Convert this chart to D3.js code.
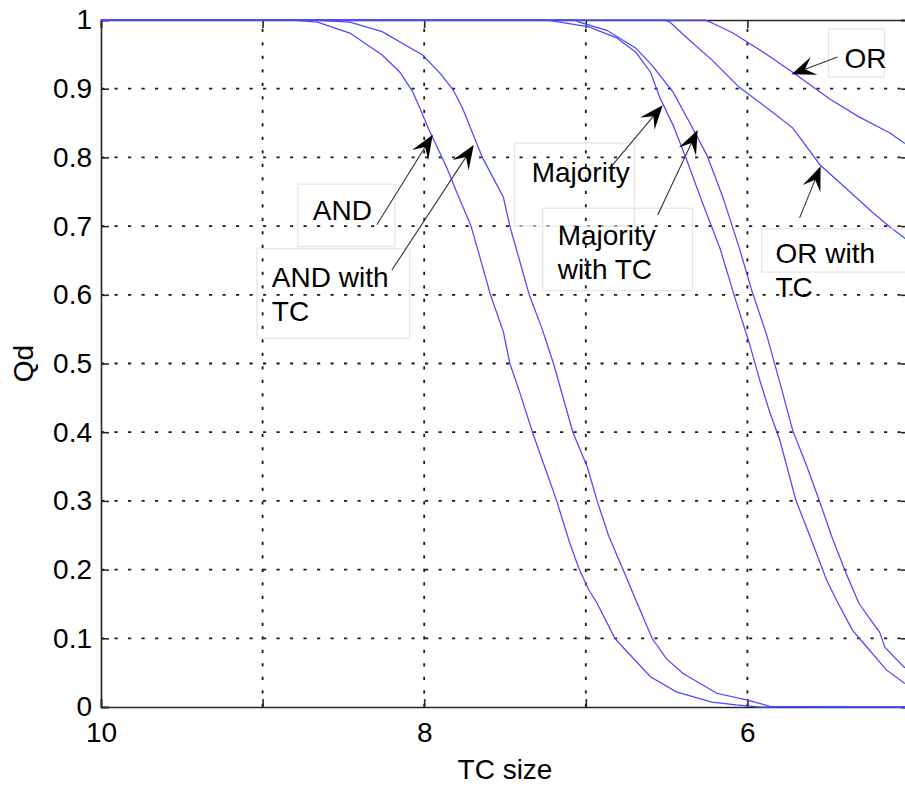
<!DOCTYPE html>
<html>
<head>
<meta charset="utf-8">
<script src="https://cdn.jsdelivr.net/npm/d3@7"></script>
<style>
  html, body { margin: 0; padding: 0; background: #fff; overflow: hidden; }
  svg { display: block; font-family: "Liberation Sans", Arial, Helvetica, sans-serif; }
</style>
</head>
<body>
<svg id="chart" width="905" height="791"></svg>
<script>
// ---------------- data ----------------
const xTicks = [10, 9, 8, 7, 6, 5];
const xTickLabels = [10, 8, 6];
const yTicks = [0, 0.1, 0.2, 0.3, 0.4, 0.5, 0.6, 0.7, 0.8, 0.9, 1];
const yTickLabels = ["0", "0.1", "0.2", "0.3", "0.4", "0.5", "0.6", "0.7", "0.8", "0.9", "1"];

const andX = [10, 8.83, 8.66, 8.46, 8.26, 8.15, 8.07, 8.02, 7.97, 7.92, 7.86, 7.80, 7.71, 7.64, 7.59, 7.51, 7.47, 7.41, 7.33, 7.27, 7.18, 7.10, 7.04, 6.98, 6.93, 6.82, 6.77, 6.60, 6.44, 6.22, 6.07, 5.92, 5];
const andY = [1, 1, 0.997, 0.981, 0.949, 0.924, 0.895, 0.868, 0.840, 0.815, 0.785, 0.75, 0.70, 0.642, 0.60, 0.546, 0.50, 0.459, 0.40, 0.36, 0.30, 0.239, 0.20, 0.17, 0.151, 0.10, 0.087, 0.044, 0.022, 0.007, 0.003, 0, 0];

const andTcX = [10, 8.71, 8.46, 8.26, 8.01, 7.90, 7.82, 7.76, 7.64, 7.51, 7.47, 7.35, 7.27, 7.20, 7.08, 6.99, 6.93, 6.86, 6.77, 6.68, 6.59, 6.50, 6.40, 6.19, 6.00, 5.86, 5];
const andTcY = [1, 1, 0.997, 0.983, 0.949, 0.922, 0.898, 0.870, 0.80, 0.742, 0.70, 0.60, 0.55, 0.50, 0.40, 0.349, 0.30, 0.25, 0.20, 0.15, 0.10, 0.07, 0.049, 0.020, 0.010, 0.001, 0];

const majX = [10, 7.25, 7.16, 6.98, 6.81, 6.69, 6.60, 6.54, 6.46, 6.38, 6.28, 6.17, 6.07, 5.99, 5.92, 5.86, 5.80, 5.70, 5.62, 5.51, 5.45, 5.35, 5.26, 5.14, 5.03, 5];
const majY = [1, 1, 0.997, 0.990, 0.974, 0.953, 0.924, 0.886, 0.847, 0.799, 0.735, 0.668, 0.590, 0.531, 0.473, 0.428, 0.389, 0.301, 0.253, 0.185, 0.156, 0.112, 0.087, 0.054, 0.035, 0.032];

const majTcX = [10, 7.07, 7.04, 6.87, 6.69, 6.59, 6.46, 6.36, 6.25, 6.15, 6.05, 5.97, 5.88, 5.80, 5.72, 5.63, 5.55, 5.47, 5.39, 5.31, 5.18, 5.15, 5.03, 5];
const majTcY = [1, 1, 0.997, 0.985, 0.959, 0.934, 0.895, 0.852, 0.803, 0.741, 0.668, 0.604, 0.541, 0.473, 0.403, 0.349, 0.297, 0.243, 0.195, 0.151, 0.108, 0.087, 0.058, 0.055];

const orTcX = [10, 6.51, 6.48, 6.36, 6.22, 6.05, 5.84, 5.72, 5.55, 5.39, 5.23, 5.12, 5.03, 5];
const orTcY = [1, 1, 0.997, 0.971, 0.942, 0.902, 0.865, 0.843, 0.789, 0.755, 0.721, 0.699, 0.683, 0.678];

const orX = [10, 6.26, 6.23, 6.09, 5.92, 5.72, 5.49, 5.31, 5.12, 5.03, 5];
const orY = [1, 1, 0.997, 0.981, 0.956, 0.924, 0.885, 0.859, 0.836, 0.821, 0.818];

const seriesList = [
  { name: "AND", xs: andX, ys: andY },
  { name: "AND with TC", xs: andTcX, ys: andTcY },
  { name: "Majority", xs: majX, ys: majY },
  { name: "Majority with TC", xs: majTcX, ys: majTcY },
  { name: "OR with TC", xs: orTcX, ys: orTcY },
  { name: "OR", xs: orX, ys: orY }
];

// annotation texts (lines)
const annTexts = [["AND"], ["AND with", "TC"], ["Majority"], ["Majority", "with TC"], ["OR"], ["OR with", "TC"]];

// ---------------- layout ----------------
const svg = d3.select("#chart");
const pL = 101, pR = 909, pT = 20, pB = 707;
const fs = 28;

const x = d3.scaleLinear().domain([10, 5]).range([pL, pR]);
const y = d3.scaleLinear().domain([0, 1]).range([pB, pT]);

// grid
const grid = svg.append("g").attr("stroke", "#1a1a1a").attr("stroke-width", 1.8)
  .attr("stroke-dasharray", "3.2,10.3").attr("fill", "none");
xTicks.filter(v => v !== 10 && v !== 5).forEach(v => {
  grid.append("line").attr("x1", x(v)).attr("x2", x(v)).attr("y1", pB).attr("y2", pT);
});
yTicks.filter(v => v !== 0 && v !== 1).forEach(v => {
  grid.append("line").attr("x1", pL).attr("x2", pR).attr("y1", y(v)).attr("y2", y(v));
});

// axes
const axColor = "#262626";
const xAxis = d3.axisBottom(x).tickValues(xTicks).tickSize(-8).tickPadding(15)
  .tickFormat(d => xTickLabels.includes(d) ? String(d) : "");
const yAxis = d3.axisLeft(y).tickValues(yTicks).tickSize(-8).tickPadding(9)
  .tickFormat((d, i) => yTickLabels[i]);

const gx = svg.append("g").attr("transform", `translate(0,${pB})`).call(xAxis);
const gy = svg.append("g").attr("transform", `translate(${pL},0)`).call(yAxis);
const gxt = svg.append("g").attr("transform", `translate(0,${pT})`)
  .call(d3.axisTop(x).tickValues(xTicks).tickSize(-8).tickFormat(""));
const gyr = svg.append("g").attr("transform", `translate(${pR},0)`)
  .call(d3.axisRight(y).tickValues(yTicks).tickSize(-8).tickFormat(""));
[gx, gy, gxt, gyr].forEach(g => {
  g.select(".domain").attr("stroke", axColor).attr("stroke-width", 1.6);
  g.selectAll(".tick line").attr("stroke", axColor).attr("stroke-width", 1.6);
  g.selectAll(".tick text").attr("fill", "#000").attr("font-size", fs)
    .attr("font-family", "'Liberation Sans', Arial, sans-serif");
});

// curves (drawn over the axes, as in the original)
const line = d3.line().x(d => x(d[0])).y(d => y(d[1]));
const curves = svg.append("g");
seriesList.forEach(s => {
  const pts = s.xs.map((v, i) => [v, s.ys[i]]);
  curves.append("path").attr("d", line(pts)).attr("fill", "none")
    .attr("stroke", "#4a4aff").attr("stroke-width", 1.25);
});

// axis titles
svg.append("text").attr("x", (pL + pR) / 2).attr("y", 779).attr("text-anchor", "middle")
  .attr("font-size", fs).attr("fill", "#000").text("TC size");
svg.append("text").attr("transform", `translate(33,${(pT + pB) / 2}) rotate(-90)`)
  .attr("text-anchor", "middle").attr("font-size", fs).attr("fill", "#000").text("Qd");

// annotations (positions in data units)
const annLayout = [
  { box: [8.782, 0.761, 8.182, 0.670], text: [8.689, 0.709], tail: [8.293, 0.702], tip: [7.947, 0.833] },
  { box: [9.035, 0.667, 8.089, 0.537], text: [8.943, 0.611], tail: [8.200, 0.636], tip: [7.693, 0.818] },
  { box: [7.440, 0.821, 6.698, 0.700], text: [7.335, 0.764], tail: [6.834, 0.789], tip: [6.524, 0.876] },
  { box: [7.267, 0.726, 6.339, 0.606], text: [7.174, 0.672], tail: [6.555, 0.716], tip: [6.308, 0.840] },
  { box: [5.498, 0.987, 5.152, 0.917], text: [5.399, 0.930], tail: [5.442, 0.946], tip: [5.727, 0.921] },
  { box: [5.912, 0.696, 4.966, 0.633], text: [5.826, 0.646], tail: [5.677, 0.712], tip: [5.547, 0.787] }
];
const ann = svg.append("g");
annLayout.forEach((a, i) => {
  const bx0 = x(a.box[0]), by0 = y(a.box[1]), bx1 = x(a.box[2]), by1 = y(a.box[3]);
  ann.append("rect").attr("x", bx0).attr("y", by0).attr("width", bx1 - bx0).attr("height", by1 - by0)
    .attr("fill", "none").attr("stroke", "#e6e6e6").attr("stroke-width", 1.2);
  const t = ann.append("text").attr("x", x(a.text[0])).attr("y", y(a.text[1]))
    .attr("font-size", fs).attr("fill", "#000");
  annTexts[i].forEach((s, k) => {
    t.append("tspan").attr("x", x(a.text[0])).attr("dy", k === 0 ? 0 : fs * 1.2).text(s);
  });
  // arrow
  const tx = x(a.tail[0]), ty = y(a.tail[1]), hx = x(a.tip[0]), hy = y(a.tip[1]);
  const dx = hx - tx, dy = hy - ty, len = Math.hypot(dx, dy);
  const ux = dx / len, uy = dy / len, px = -uy, py = ux;
  const L = 24, W = 9.5, N = 0.6;
  const bxp = hx - ux * L, byp = hy - uy * L;
  const nx = hx - ux * L * N, ny = hy - uy * L * N;
  ann.append("line").attr("x1", tx).attr("y1", ty).attr("x2", nx).attr("y2", ny)
    .attr("stroke", "#333").attr("stroke-width", 1.1);
  ann.append("path")
    .attr("d", `M${hx},${hy} L${bxp + px * W},${byp + py * W} L${nx},${ny} L${bxp - px * W},${byp - py * W} Z`)
    .attr("fill", "#000");
});
</script>
</body>
</html>
